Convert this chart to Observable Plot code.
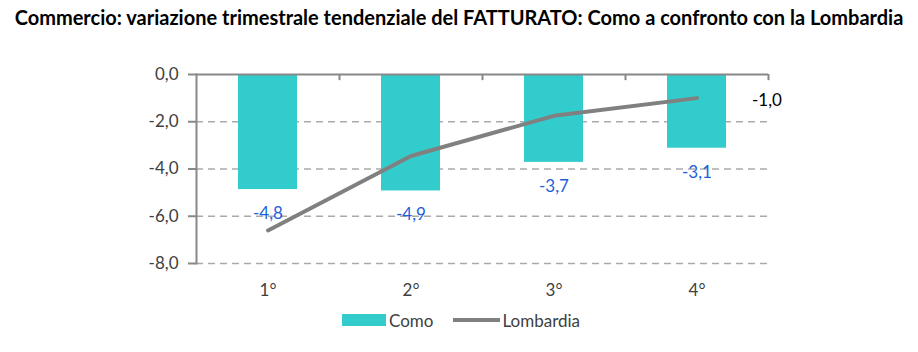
<!DOCTYPE html>
<html><head><meta charset="utf-8">
<script src="https://cdn.jsdelivr.net/npm/d3@7"></script>
<script src="https://cdn.jsdelivr.net/npm/@observablehq/plot@0.6"></script>
<style>
body{margin:0;background:#fff;font-family:Lato,"Open Sans",sans-serif;}
#wrap{position:relative;width:918px;height:352px;}
#title{position:absolute;left:0;top:5px;width:918px;text-align:center;font-weight:bold;font-size:20px;color:#000;white-space:nowrap;}
#chart{position:absolute;left:0;top:40px;}
#legend{position:absolute;top:310px;left:342px;height:20px;font-size:17px;color:#404040;display:flex;align-items:center;}
.sw{display:inline-block;width:44px;height:12px;background:#33CCCC;margin-right:3px;}
.ln{display:inline-block;width:47px;height:4px;background:#808080;margin-left:20px;margin-right:2px;}
</style></head>
<body><div id="wrap">
<div id="title">Commercio: variazione trimestrale tendenziale del FATTURATO: Como a confronto con la Lombardia</div>
<div id="chart"></div>
<div id="legend"><span class="sw"></span><span>Como</span><span class="ln"></span><span>Lombardia</span></div>
</div>
<script>
const quarters = ["1°","2°","3°","4°"];
const como = [-4.8, -4.9, -3.7, -3.1];
const comoBar = [-4.87, -4.93, -3.72, -3.12];
const lombardia = [-6.6, -3.45, -1.75, -1.0];
const yTicks = [0, -2, -4, -6, -8];
const lastLabel = "-1,0";

const fmt = d => d.toFixed(1).replace(".", ",");
const bars = quarters.map((q, i) => ({q, v: comoBar[i], label: fmt(como[i])}));
const line = quarters.map((q, i) => ({q, v: lombardia[i]}));

const chart = Plot.plot({
  width: 918, height: 270,
  marginLeft: 196, marginRight: 150, marginTop: 34, marginBottom: 47,
  style: {fontFamily: "Lato, 'Open Sans', sans-serif", fontSize: "17px", color: "#404040", background: "transparent"},
  x: {domain: quarters, type: "band", paddingInner: 0.59, paddingOuter: 0.295, label: null},
  y: {domain: [-8, 0], label: null},
  marks: [
    Plot.ruleY(yTicks.filter(d => d !== 0), {stroke: "#aaaaaa", strokeWidth: 1.5, strokeDasharray: "7,5"}),
    Plot.barY(bars, {x: "q", y: "v", fill: "#33CCCC"}),
    Plot.line(line, {x: "q", y: "v", stroke: "#808080", strokeWidth: 4, strokeLinecap: "round"}),
    Plot.text(bars, {x: "q", y: "v", text: "label", dy: 24, fill: "#1F5FDB", fontSize: 17}),
    Plot.text([line[line.length - 1]], {x: "q", y: "v", text: () => lastLabel, dx: 70, dy: 2, fill: "#000", fontSize: 17}),
    Plot.ruleY([0], {stroke: "#888888", strokeWidth: 2}),
    Plot.frame({anchor: "left", stroke: "#888888", strokeWidth: 2}),
    Plot.ruleX(quarters, {x: d => d, y1: 0, y2: -0.26, dx: 71.5, stroke: "#888888", strokeWidth: 2}),
    Plot.axisY({ticks: yTicks, tickFormat: fmt, tickSize: 8, tickPadding: 10, stroke: "#888888", strokeWidth: 2, fill: "#404040", fontSize: 17}),
    Plot.axisX({tickSize: 0, tickPadding: 20, fill: "#404040", fontSize: 17})
  ]
});
document.getElementById("chart").appendChild(chart);
</script>
</body></html>
